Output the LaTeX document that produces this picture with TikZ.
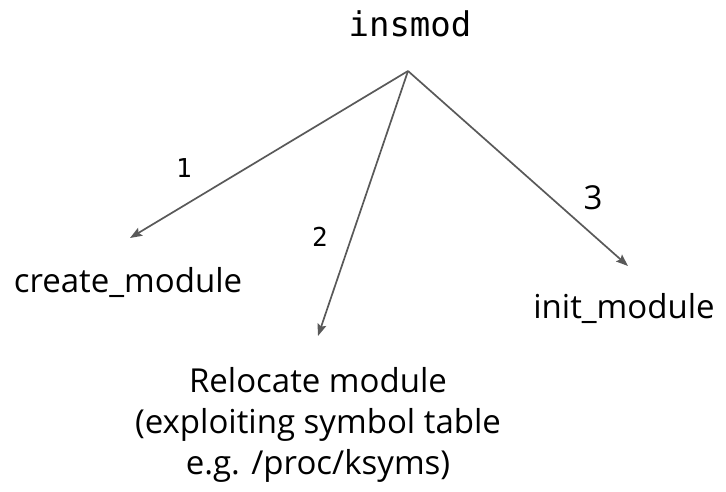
\documentclass[tikz,border=0pt]{standalone}
\usepackage{fontspec}
\setmainfont{Open Sans}
\newfontfamily\monof{DejaVu Sans Mono}
\usetikzlibrary{arrows.meta}
\definecolor{arrowgray}{HTML}{595959}
\tikzset{
  lbl/.style={inner sep=0pt, anchor=base, font=\fontsize{33}{41}\selectfont},
  num/.style={inner sep=0pt, anchor=base, font=\monof\fontsize{26}{30}\selectfont},
  conn/.style={draw=arrowgray, line width=1.7pt, -{Stealth[length=12pt,width=9pt,inset=2pt]}}
}
\begin{document}
\begin{tikzpicture}[x=1pt,y=-1pt]
\useasboundingbox (0,0) rectangle (726,492);
\node[inner sep=0pt, anchor=base, font=\monof\fontsize{34}{40}\selectfont] (insmod) at (410,37) {insmod};
\coordinate (apex) at (408,71);
\coordinate (e1) at (130,238);
\coordinate (e2) at (318,336);
\coordinate (e3) at (628,266);
\draw[conn] (apex) -- (e1);
\draw[conn] (apex) -- (e2);
\draw[conn] (apex) -- (e3);
\node[num] (n1) at (184,178) {1};
\node[num] (n2) at (320,247) {2};
\node[inner sep=0pt, anchor=base, font=\fontsize{33}{38}\selectfont] (n3) at (593,209) {3};
\node[lbl] (create) at (128,292) {create\_module};
\node[lbl] (init) at (624,318) {init\_module};
\node[inner sep=0pt, align=center, font=\fontsize{33}{41}\selectfont] (reloc) at (318,425) {Relocate module\\(exploiting symbol table\\e.g. /proc/ksyms)};
\end{tikzpicture}
\end{document}
